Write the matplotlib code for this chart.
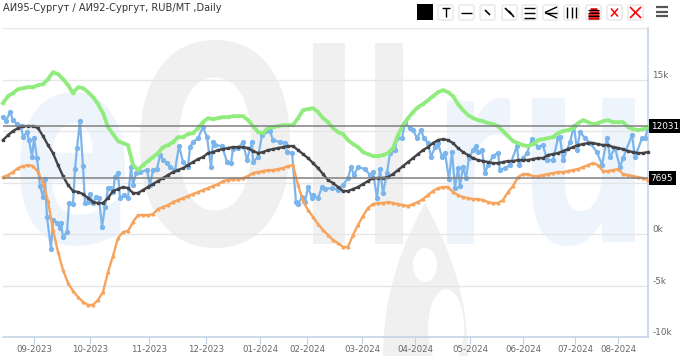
import matplotlib
matplotlib.use("Agg")
import matplotlib.pyplot as plt
import numpy as np
from matplotlib.patches import Ellipse, PathPatch, Rectangle, FancyBboxPatch
from matplotlib.path import Path
from matplotlib.textpath import TextPath
from matplotlib.transforms import Affine2D

title = "АИ95-Сургут / АИ92-Сургут, RUB/MT ,Daily"
month_labels = ["09-2023", "10-2023", "11-2023", "12-2023", "01-2024", "02-2024",
                "03-2024", "04-2024", "05-2024", "06-2024", "07-2024", "08-2024"]
month_pos = [31, 87, 146, 203, 257, 304, 359, 412, 467, 520, 572, 615]
y_ticks = [-10000, -5000, 0, 5000, 10000, 15000, 20000]
y_labels = ["-10k", "-5k", "0k", "", "", "15k", ""]

level_pos = [10476, 5432]
level_labels = ["12031", "7695"]

green = [12707, 13386, 13677, 14065, 14162, 14259, 14259, 14453, 14550, 15035, 15714, 15520, 15035, 14453, 13677,
         14259, 14162, 13774, 13289, 12610, 11737, 10379, 9700, 9021, 8827, 8633, 6693, 6208, 6693, 7081, 7469, 7857,
         8439, 8633, 8924, 9409, 9409, 9700, 9797, 10282, 10864, 11252, 11155, 11252, 11349, 11349, 11446, 11446,
         11446, 11058, 10476, 9894, 9797, 10282, 10379, 10476, 10573, 10573, 10573, 11252, 12028, 12125, 12222, 11834,
         11252, 10864, 10282, 9894, 9700, 9118, 8730, 8439, 7954, 7760, 7566, 7566, 7663, 7857, 8342, 9603, 10573,
         11252, 11834, 12319, 12610, 12998, 13386, 13774, 13968, 13774, 13386, 12610, 12028, 11543, 11252, 11058,
         10961, 10767, 10670, 10476, 9991, 9506, 9021, 8827, 8633, 8536, 8730, 9118, 9215, 9312, 9409, 9797, 9991,
         10088, 10282, 10767, 11058, 10864, 10670, 10767, 10961, 11058, 10864, 10864, 10864, 10379, 10185, 10088,
         10185, 10379]
black = [9118, 9603, 9991, 10282, 10476, 10476, 10476, 10282, 9506, 8633, 7857, 6693, 5626, 4753, 4171, 4074, 3880,
         3492, 3104, 3007, 3007, 3492, 4171, 4365, 4559, 4462, 3977, 3977, 4268, 4559, 4850, 5141, 5432, 5723, 6014,
         6208, 6402, 6693, 6984, 7275, 7469, 7857, 7954, 8148, 8245, 8342, 8439, 8439, 8439, 8342, 8051, 7857, 7954,
         8148, 8245, 8342, 8439, 8536, 8536, 8148, 7760, 7372, 6887, 6402, 5820, 5238, 4947, 4559, 4171, 4171, 4365,
         4559, 4850, 5141, 5432, 5432, 5432, 5529, 5820, 6208, 6596, 6984, 7372, 7760, 8148, 8439, 8827, 9118, 9215,
         9118, 8827, 8342, 7954, 7663, 7372, 7178, 7081, 6984, 6887, 6887, 6984, 7081, 7081, 7178, 7178, 7178, 7275,
         7372, 7372, 7663, 7760, 7857, 8051, 8245, 8439, 8633, 8730, 8827, 8827, 8730, 8633, 8633, 8439, 8342, 8245,
         8051, 7954, 7857, 7857, 7954]
orange = [5529, 5723, 6014, 6402, 6596, 6693, 6596, 6014, 4947, 3201, 388, -1746, -3492, -4753, -5529, -6111, -6596,
          -6887, -6887, -6402, -5626, -3686, -2134, -388, 194, 291, 1164, 1843, 1843, 1843, 1940, 2425, 2619, 2813,
          3104, 3298, 3492, 3686, 3880, 4074, 4268, 4462, 4656, 4850, 5141, 5238, 5335, 5335, 5432, 5626, 5917, 6014,
          6111, 6208, 6208, 6305, 6402, 6596, 6693, 4753, 3201, 2328, 1649, 970, 388, -97, -582, -873, -1261, -1261,
          -97, 873, 1746, 2522, 2910, 3007, 3007, 3104, 3007, 2910, 2813, 2716, 2910, 3104, 3395, 3783, 4171, 4462,
          4559, 4559, 4074, 3783, 3589, 3492, 3395, 3395, 3298, 3104, 3007, 3007, 3298, 4074, 4656, 5529, 5820, 5820,
          5626, 5626, 5723, 5820, 5917, 6014, 6014, 6111, 6208, 6305, 6499, 6693, 6887, 6693, 6111, 6111, 6208, 6305,
          5820, 5723, 5626, 5529, 5432, 5238]

blue_x = [0, 3, 7, 10, 14, 18, 20, 24, 26, 29, 31, 34, 37, 40, 42, 44, 48, 50, 54, 57, 58, 60, 64, 66, 70, 72, 74, 77,
          80, 82, 85, 87, 90, 93, 96, 99, 102, 105, 107, 110, 112, 115, 117, 121, 125, 128, 130, 133, 137, 144, 147,
          150, 154, 157, 160, 164, 167, 172, 176, 180, 185, 187, 190, 195, 200, 204, 208, 210, 212, 219, 224, 228,
          230, 235, 240, 244, 249, 250, 255, 259, 267, 270, 277, 282, 284, 289, 293, 295, 299, 302, 305, 309, 310,
          315, 319, 322, 329, 335, 340, 345, 348, 351, 355, 362, 367, 370, 374, 377, 380, 384, 387, 392, 394, 399,
          402, 407, 410, 414, 418, 421, 425, 428, 432, 435, 439, 442, 446, 449, 452, 455, 457, 460, 463, 466, 470,
          473, 475, 479, 482, 485, 490, 495, 497, 502, 507, 514, 516, 520, 524, 529, 535, 540, 544, 550, 555, 557,
          560, 567, 571, 574, 577, 582, 587, 594, 599, 604, 607, 612, 617, 620, 629, 632, 639, 642, 645]
blue_val = [11349, 10961, 11834, 11058, 10670, 10476, 9409, 9894, 9118, 7469, 9312, 7372, 4656, 3589, 5335, 1649,
            -1455, 1358, 1067, 582, 1067, -291, 194, 3007, 2910, 6305, 8342, 10961, 6596, 3007, 3104, 3880, 3007,
            3589, 3492, 679, 2619, 4462, 4462, 4074, 5529, 5917, 3492, 3783, 3492, 6499, 4753, 5917, 6014, 6208, 4753,
            6208, 6305, 7663, 7178, 6887, 6499, 6208, 8536, 6984, 6499, 8439, 8924, 9312, 10379, 9409, 6499, 8924,
            8633, 8536, 6984, 6887, 8245, 8342, 8924, 7178, 8924, 6984, 7469, 9603, 9991, 9118, 8924, 8827, 7954,
            7857, 3104, 2910, 3589, 3104, 4559, 3492, 3783, 3492, 4559, 4365, 4462, 4268, 4753, 5432, 6499, 5723, 6499,
            6305, 5723, 6014, 3492, 6305, 3977, 5917, 7857, 8148, 9312, 9312, 10767, 10282, 10088, 9312, 10088, 9312,
            8827, 7469, 8439, 8827, 7469, 7857, 5335, 7954, 4462, 6402, 4656, 6499, 5432, 7372, 8148, 8536, 7954, 8148,
            5917, 6693, 7566, 7857, 6208, 6402, 6693, 8536, 6693, 7372, 7857, 9215, 8439, 8633, 7178, 7178, 9312, 9409,
            7178, 8924, 10476, 8148, 9894, 9312, 8827, 7954, 6693, 9312, 7469, 8342, 6499, 7372, 9603, 7469, 9312, 9312,
            10282]

fig = plt.figure(figsize=(6.8, 3.56), dpi=100)

# background layer in pixel coordinates, watermark and toolbar live here
bg = fig.add_axes([0, 0, 1, 1], zorder=0)
bg.set_xlim(0, 680)
bg.set_ylim(356, 0)
bg.axis("off")

WM_BLUE = "#edf4fb"
WM_GRAY = "#f0f0f0"


def glyph(ch, x0, y0, x1, y1, color):
    tp = TextPath((0, 0), ch, size=100, prop={"family": "DejaVu Sans", "weight": "bold"})
    box = tp.get_extents()
    verts = tp.vertices.copy()
    start = 0
    # closepoly vertices are junk, put them back on the start of their subpath
    for i, c in enumerate(tp.codes):
        if c == Path.MOVETO:
            start = i
        elif c == Path.CLOSEPOLY:
            verts[i] = verts[start]
    tr = (Affine2D().translate(-box.x0, -box.y0)
          .scale((x1 - x0) / box.width, -(y1 - y0) / box.height)
          .translate(x0, y1))
    bg.add_patch(PathPatch(Path(tr.transform(verts), tp.codes), fc=color, ec="none", lw=0))


glyph("e", 20, 92, 125, 246, WM_BLUE)
glyph("O", 140, 40, 290, 248, WM_GRAY)
bg.add_patch(Rectangle((313, 43), 32, 201, fc=WM_GRAY, ec="none"))
bg.add_patch(Rectangle((375, 43), 28, 201, fc=WM_GRAY, ec="none"))
glyph("r", 447, 98, 510, 244, WM_BLUE)
glyph("u", 532, 98, 635, 246, WM_BLUE)

drop = Path([(425, 203), (405, 240), (383, 290), (383, 356), (468, 356),
             (468, 290), (445, 240), (425, 203)],
            [Path.MOVETO, Path.CURVE4, Path.CURVE4, Path.CURVE4, Path.LINETO,
             Path.CURVE4, Path.CURVE4, Path.CURVE4])
bg.add_patch(PathPatch(drop, fc=WM_GRAY, ec="none", lw=0))
bg.add_patch(Ellipse((425, 265), 24, 34, fc="white", ec="none"))
bg.add_patch(Ellipse((446, 328), 36, 78, fc="white", ec="none"))

bg.text(3, 8, title, fontsize=7.1, color="#333333", va="center", ha="left")

# toolbar
bg.add_patch(Rectangle((417, 4), 16, 16, fc="black", ec="none"))
btn_left = [438, 459, 480, 502, 522, 543, 564, 586, 607, 628]
for b in btn_left:
    bg.add_patch(FancyBboxPatch((b + 1, 6), 13, 13, boxstyle="round,pad=1,rounding_size=2", fc="white",
                                ec="#e2e2e2", lw=0.8))


def seg(x0, y0, x1, y1, c="black", lw=1.0):
    bg.plot([x0, x1], [y0, y1], color=c, lw=lw, solid_capstyle="butt")


seg(442, 8, 450, 8)
seg(446, 8, 446, 17)
seg(461, 12.5, 472, 12.5)
seg(485, 10, 490, 15, lw=1.2)
seg(505, 8, 511, 14, lw=1.2)
seg(509, 11, 514, 17, lw=1.2)
for yy in (7.5, 12.5, 17.5):
    seg(524, yy, 535, yy)
seg(557, 7, 545, 12.5)
seg(545, 12.5, 557, 12.5)
seg(545, 12.5, 557, 18)
for xx in (567, 571.5, 576):
    seg(xx, 7, xx, 18)
for yy, hw in ((8.5, 3.5), (11.5, 5), (14.5, 5.5), (17.5, 5.5)):
    seg(593.5 - hw, yy, 593.5 + hw, yy, "#cc0000", lw=1.8)
for yy in (10, 13, 16):
    seg(588, yy, 599, yy, "black", 0.8)
seg(611, 8.5, 618, 16.5, "red", 1.1)
seg(618, 8.5, 611, 16.5, "red", 1.1)
seg(630, 7, 641, 18, "red", 1.2)
seg(641, 7, 630, 18, "red", 1.2)
for yy in (7, 11.5, 16):
    seg(656, yy, 668, yy, "#555555", 1.6)

# chart
ax = fig.add_axes([3 / 680, (356 - 337) / 356, 645 / 680, 309 / 356], zorder=1)
ax.patch.set_alpha(0)
ax.set_xlim(0, 645)
ax.set_ylim(-10000, 20000)

ax.set_yticks(y_ticks)
ax.set_yticklabels(y_labels, fontsize=6.4, color="#666666", va="bottom")
ax.yaxis.tick_right()
ax.tick_params(axis="y", length=0, pad=3)
ax.grid(axis="y", color="#e6e6e6", lw=1)
ax.set_axisbelow(True)
ax.set_xticks(month_pos)
ax.set_xticklabels(month_labels, fontsize=6.2, color="#666666")
ax.tick_params(axis="x", length=5, width=0.8, color="#c0d0e3", pad=0.5)
for s in ("top", "left"):
    ax.spines[s].set_visible(False)
for s in ("bottom", "right"):
    ax.spines[s].set_color("#c0d0e3")
    ax.spines[s].set_linewidth(1.1)

days = np.arange(len(green)) * 5
ax.plot(blue_x, blue_val, color="#7cb5ec", lw=1.6, marker="o", ms=2.8, zorder=3, clip_on=False)
ax.plot(days, orange, color="#f7a35c", lw=1.7, marker="^", ms=1.9, zorder=4, clip_on=False)
ax.plot(days, green, color="#90ed7d", lw=2.7, marker="s", ms=2.1, zorder=5, clip_on=False)
ax.plot(days, black, color="#434348", lw=1.7, marker="s", ms=1.5, zorder=6, clip_on=False)

for lv, lab in zip(level_pos, level_labels):
    ax.axhline(lv, color="#808080", lw=1.3, alpha=0.85, zorder=7)
    ax.annotate(lab, xy=(1, lv), xycoords=("axes fraction", "data"), xytext=(2, 0), textcoords="offset points",
                fontsize=6.4, color="white", va="center", ha="left", zorder=8, annotation_clip=False,
                bbox=dict(boxstyle="square,pad=0.25", fc="black", ec="none"))

fig.savefig("out.png", dpi=100)
